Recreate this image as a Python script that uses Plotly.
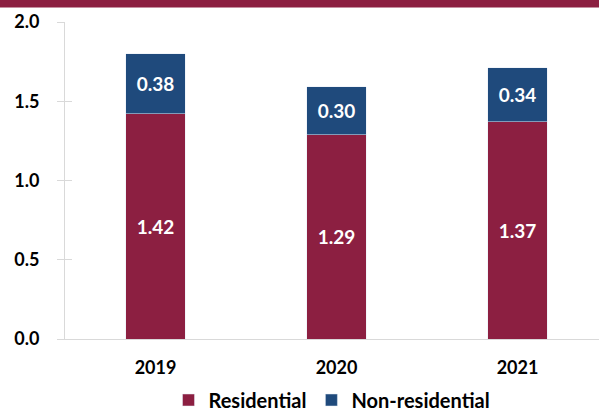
import plotly.graph_objects as go

years = ["2019", "2020", "2021"]
residential = [1.42, 1.29, 1.37]
non_residential = [0.38, 0.30, 0.34]

MAROON = "#8C1F41"
NAVY = "#1F4A7C"
AXIS_GREY = "#d9d9d9"
FONT = "Lato"
WEIGHT = "bold"

fig = go.Figure()
fig.add_trace(go.Bar(
    x=years, y=residential, name="Residential",
    marker=dict(color=MAROON),
    text=[f"{v:.2f}" for v in residential], textposition="inside",
    insidetextanchor="middle",
    textfont=dict(family=FONT, size=19, color="white", weight=WEIGHT),
    width=0.33,
))
fig.add_trace(go.Bar(
    x=years, y=non_residential, name="Non-residential",
    marker=dict(color=NAVY),
    text=[f"{v:.2f}" for v in non_residential], textposition="inside",
    insidetextanchor="middle",
    textfont=dict(family=FONT, size=19, color="white", weight=WEIGHT),
    width=0.33,
))

# invisible trace on an overlaid axis, so the y ticks cross the axis line
fig.add_trace(go.Scatter(x=years, y=[None] * 3, yaxis="y2", showlegend=False,
                         hoverinfo="skip"))

W, H = 599, 414
ml, mr, mt, mb = 65, 0, 22, 75
plot_h = H - mt - mb
plot_w = W - ml - mr

fig.update_layout(
    width=W, height=H,
    margin=dict(l=ml, r=mr, t=mt, b=mb, autoexpand=False),
    barmode="stack",
    plot_bgcolor="white", paper_bgcolor="white",
    font=dict(family=FONT, size=18, color="#000000", weight=WEIGHT),
    uniformtext=dict(mode=False),
    xaxis=dict(
        range=[-0.5, -0.5 + plot_w / 181.0],
        showline=True, linecolor=AXIS_GREY, linewidth=1,
        ticks="", showgrid=False,
        tickfont=dict(family=FONT, size=18, weight=WEIGHT),
        ticklabelstandoff=12,
    ),
    yaxis=dict(
        range=[0, 2.0], dtick=0.5, tickformat=".1f",
        showline=True, linecolor=AXIS_GREY, linewidth=1,
        ticks="outside", ticklen=7, tickcolor=AXIS_GREY,
        showgrid=False, zeroline=False,
        tickfont=dict(family=FONT, size=18, weight=WEIGHT),
        ticklabelstandoff=14,
    ),
    yaxis2=dict(
        overlaying="y", side="left", range=[0, 2.0], dtick=0.5,
        ticks="inside", ticklen=7, tickcolor=AXIS_GREY,
        showticklabels=False, showgrid=False, zeroline=False, showline=False,
    ),
    legend=dict(
        orientation="h", x=0.5, xanchor="center",
        y=-61 / plot_h, yanchor="middle",
        font=dict(family=FONT, size=20, weight=WEIGHT),
        traceorder="normal",
        itemwidth=30,
    ),
    shapes=[dict(
        type="rect", xref="paper", yref="paper",
        x0=-ml / plot_w, x1=1 + 5 / plot_w,
        y0=1 + (mt - 7.5) / plot_h, y1=1 + (mt + 2) / plot_h,
        fillcolor=MAROON, line=dict(width=0), layer="above",
    )],
)

fig.write_html("out.html")
